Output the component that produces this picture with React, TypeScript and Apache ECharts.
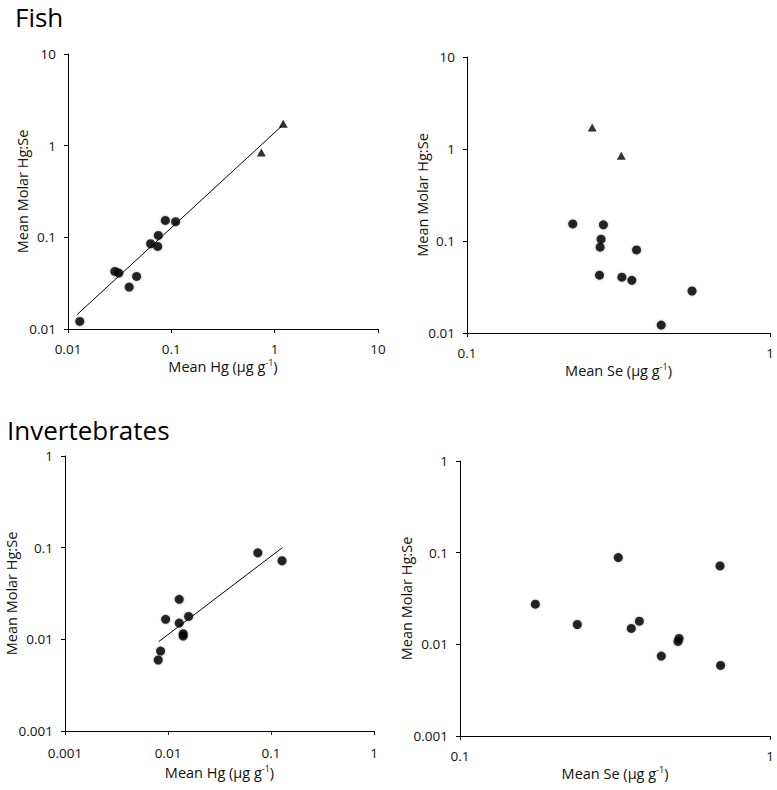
import React, { useEffect, useRef } from "react";
import * as echarts from "echarts";

// ---- Data ----
const fishHgCircX = [0.013, 0.0284, 0.031, 0.0391, 0.0461, 0.063, 0.0738, 0.0748, 0.0875, 0.11];
const fishHgCircY = [0.0121, 0.0425, 0.0408, 0.0287, 0.0375, 0.0851, 0.0796, 0.105, 0.153, 0.148];
const fishHgTriX = [0.743, 1.21];
const fishHgTriY = [0.843, 1.73];
const fishTrendX = [0.0122, 1.18];
const fishTrendY = [0.0143, 1.65];

const fishSeCircX = [0.2234, 0.282, 0.277, 0.275, 0.3627, 0.2737, 0.3245, 0.35, 0.553, 0.4375];
const fishSeCircY = [0.1535, 0.15, 0.1046, 0.0856, 0.08, 0.0425, 0.0404, 0.0374, 0.0286, 0.0122];
const fishSeTriX = [0.259, 0.323];
const fishSeTriY = [1.71, 0.843];

const invHgX = [0.0745, 0.128, 0.01285, 0.00948, 0.01585, 0.01285, 0.01404, 0.01404, 0.00848, 0.00804];
const invHgY = [0.0879, 0.072, 0.0273, 0.01652, 0.0178, 0.01506, 0.0115, 0.01086, 0.00745, 0.00595];
const invTrendX = [0.00811, 0.129];
const invTrendY = [0.00942, 0.1];

const invSeX = [0.175, 0.239, 0.324, 0.357, 0.379, 0.446, 0.509, 0.505, 0.69, 0.693];
const invSeY = [0.0274, 0.01646, 0.0884, 0.0149, 0.0179, 0.00744, 0.0116, 0.01075, 0.0716, 0.00589];

const panelTitles = ["Fish", "Invertebrates"];
const yAxisName = "Mean Molar Hg:Se";
const xNameHg = "Mean Hg (μg g";
const xNameSe = "Mean Se (μg g";

const FONT = "Open Sans";

const zip = (xs: number[], ys: number[]) => xs.map((x, i) => [x, ys[i]]);

function fmt(v: number) {
  return String(Number(v.toPrecision(4)));
}

export default function App() {
  const ref = useRef<HTMLDivElement>(null);

  useEffect(() => {
    if (!ref.current) return;
    const chart = echarts.init(ref.current, undefined, { renderer: "svg" });

    const grids = [
      { left: 68, top: 54, width: 310, height: 275 },
      { left: 467, top: 57, width: 303, height: 276 },
      { left: 65, top: 456, width: 309, height: 275 },
      { left: 460, top: 461, width: 310, height: 275 },
    ].map((g) => ({ ...g, outerBoundsMode: "none", containLabel: false }));

    const axisCommon = {
      type: "log",
      logBase: 10,
      splitLine: { show: false },
      minorTick: { show: false },
      axisLine: { lineStyle: { color: "#000", width: 1 } },
      axisTick: { show: true, inside: false, length: 4, lineStyle: { color: "#000" } },
      axisLabel: {
        color: "#111",
        fontFamily: FONT,
        fontSize: 13.5,
        formatter: (v: number) => fmt(v),
        showMinLabel: true,
        showMaxLabel: true,
      },
      nameLocation: "middle",
      nameMoveOverlap: false,
    };

    const xName = (base: string) => ({
      name: "{a|" + base + "}{s|-1}{a|)}",
      nameGap: 29,
      nameTextStyle: {
        rich: {
          a: { fontFamily: FONT, fontSize: 14.5, color: "#111" },
          s: { fontFamily: FONT, fontSize: 9, color: "#111", verticalAlign: "top", padding: [0, 0, 7, 0] },
        },
      },
    });

    const xAxes = [
      { ...axisCommon, gridIndex: 0, min: 0.01, max: 10, ...xName(xNameHg), axisLabel: { ...axisCommon.axisLabel, margin: 13 } },
      { ...axisCommon, gridIndex: 1, min: 0.1, max: 1, ...xName(xNameSe), axisLabel: { ...axisCommon.axisLabel, margin: 13 } },
      { ...axisCommon, gridIndex: 2, min: 0.001, max: 1, ...xName(xNameHg), nameGap: 33, axisLabel: { ...axisCommon.axisLabel, margin: 15 } },
      { ...axisCommon, gridIndex: 3, min: 0.1, max: 1, ...xName(xNameSe), axisLabel: { ...axisCommon.axisLabel, margin: 13 } },
    ];

    const yName = (gap: number) => ({
      name: yAxisName,
      nameGap: gap,
      nameRotate: 90,
      nameTextStyle: { fontFamily: FONT, fontSize: 14.5, color: "#111" },
    });

    const yAxes = [
      { ...axisCommon, gridIndex: 0, min: 0.01, max: 10, ...yName(38), axisLabel: { ...axisCommon.axisLabel, margin: 12 } },
      { ...axisCommon, gridIndex: 1, min: 0.01, max: 10, ...yName(37), axisLabel: { ...axisCommon.axisLabel, margin: 12 } },
      { ...axisCommon, gridIndex: 2, min: 0.001, max: 1, ...yName(46), axisLabel: { ...axisCommon.axisLabel, margin: 12 } },
      { ...axisCommon, gridIndex: 3, min: 0.001, max: 1, ...yName(46), axisLabel: { ...axisCommon.axisLabel, margin: 12 } },
    ];

    const dot = (idx: number, data: number[][]) => ({
      type: "scatter",
      xAxisIndex: idx,
      yAxisIndex: idx,
      data,
      symbol: "circle",
      symbolSize: 9,
      itemStyle: { color: "#000", shadowBlur: 2, shadowColor: "rgba(0,0,0,0.45)" },
      silent: true,
    });
    const tri = (idx: number, data: number[][]) => ({
      type: "scatter",
      xAxisIndex: idx,
      yAxisIndex: idx,
      data,
      symbol: "triangle",
      symbolSize: [9, 8],
      itemStyle: { color: "#000" },
      silent: true,
    });
    const trend = (idx: number, data: number[][]) => ({
      type: "line",
      xAxisIndex: idx,
      yAxisIndex: idx,
      data,
      showSymbol: false,
      symbol: "none",
      lineStyle: { color: "#000", width: 1 },
      silent: true,
      z: 1,
    });

    chart.setOption({
      animation: false,
      backgroundColor: "#fff",
      textStyle: { fontFamily: FONT },
      grid: grids,
      xAxis: xAxes,
      yAxis: yAxes,
      graphic: [
        {
          type: "text",
          x: 15,
          y: 17,
          style: { text: panelTitles[0], fontFamily: FONT, fontSize: 26, lineHeight: 24, fill: "#000", verticalAlign: "middle" },
        },
        {
          type: "text",
          x: 7,
          y: 430,
          style: { text: panelTitles[1], fontFamily: FONT, fontSize: 26, lineHeight: 24, fill: "#000", verticalAlign: "middle" },
        },
      ],
      series: [
        trend(0, zip(fishTrendX, fishTrendY)),
        dot(0, zip(fishHgCircX, fishHgCircY)),
        tri(0, zip(fishHgTriX, fishHgTriY)),
        dot(1, zip(fishSeCircX, fishSeCircY)),
        tri(1, zip(fishSeTriX, fishSeTriY)),
        trend(2, zip(invTrendX, invTrendY)),
        dot(2, zip(invHgX, invHgY)),
        dot(3, zip(invSeX, invSeY)),
      ],
    });

    return () => chart.dispose();
  }, []);

  return (
    <div
      ref={ref}
      style={{ position: "fixed", left: 0, top: 0, width: 777, height: 790, background: "#fff" }}
    />
  );
}
